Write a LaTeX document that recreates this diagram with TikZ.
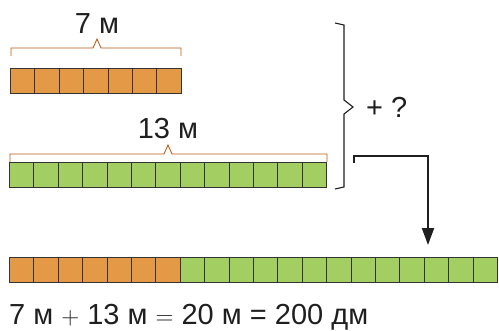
\documentclass[tikz,border=0pt]{standalone}
\usepackage{fontspec}
\setmainfont{Liberation Sans}
\usetikzlibrary{arrows.meta, calc}
\definecolor{orangecell}{RGB}{227,153,70}
\definecolor{greencell}{RGB}{163,207,98}
\definecolor{bracebrown}{RGB}{184,92,20}
\colorlet{celledge}{black!80}
\colorlet{inktext}{black!88}
\newcommand{\cellrow}[5]{%
  \foreach \i in {1,...,#3}{
    \draw[fill=#4, draw=celledge, line width=0.9pt] ({#1+(\i-1)*#5},#2) rectangle ({#1+\i*#5},{#2+25});}}
\newcommand{\lenbracket}[4]{%
  \draw[bracebrown, line width=0.9pt] (#1,{#3+8}) -- (#1,#3) -- ({#4-4},#3) -- (#4,{#3-9}) -- ({#4+4},#3) -- (#2,#3) -- (#2,{#3+8});}
\begin{document}
\begin{tikzpicture}[x=1pt, y=-1pt, >=Stealth,
    lbl/.style={font=\fontsize{29}{31}\selectfont, text=inktext, inner sep=0pt}]
    \useasboundingbox (0,0) rectangle (499,330);
    % top row: 7 m
    \cellrow{10.5}{68}{7}{orangecell}{24.4}
    \lenbracket{11}{181}{48}{97}
    \node[lbl, anchor=base] (seven) at (97,33) {7 м};
    % middle row: 13 m
    \cellrow{9.5}{162}{13}{greencell}{24.4}
    \lenbracket{10}{327}{154}{168}
    \node[lbl, anchor=base] (thirteen) at (168,138) {13 м};
    % right bracket and question
    \draw[inktext, line width=1.1pt] (335,23) -- (344,25) -- (344,100) -- (353,107) -- (344,114) -- (344,187) -- (335,189);
    \node[lbl, anchor=west] (question) at (366,107) {+ ?};
    % arrow to the sum
    \coordinate (arrowstart) at (354,163);
    \coordinate (arrowend) at (428,245);
    \draw[inktext, line width=2pt, -{Triangle[length=17pt, width=12pt]}] (arrowstart) -- ++(0,-7) -| (arrowend);
    % bottom row: 20 m
    \cellrow{9.5}{257}{7}{orangecell}{24.4}
    \cellrow{180.3}{257}{13}{greencell}{24.4}
    \node[lbl, anchor=base west] (total) at (9,324) {7 м \(+\) 13 м \(=\) 20 м = 200 дм};
\end{tikzpicture}
\end{document}
